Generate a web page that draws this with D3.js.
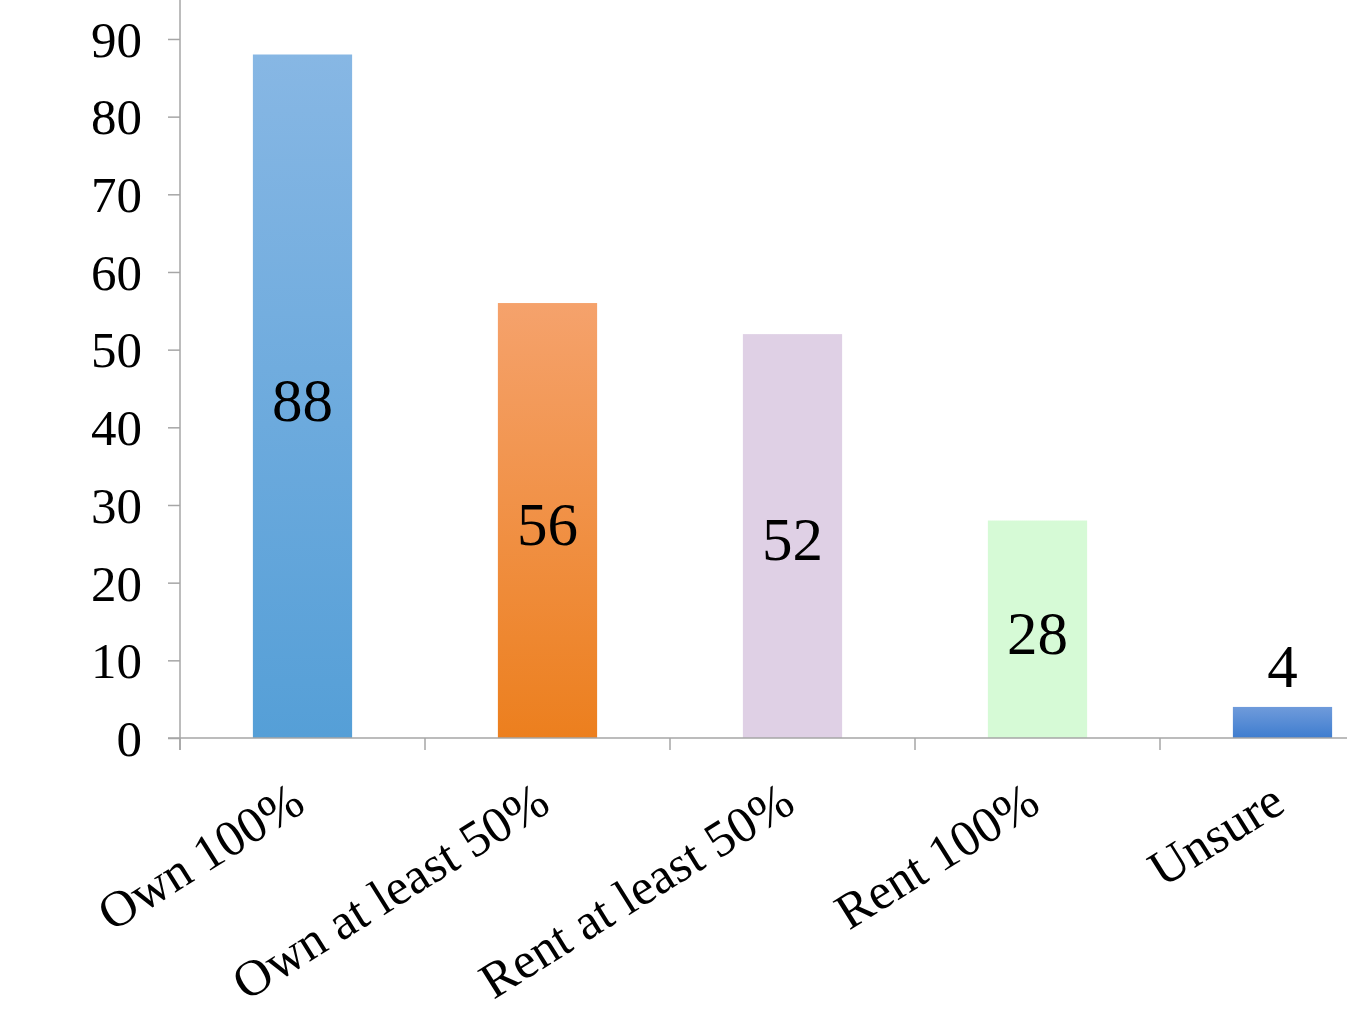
<!DOCTYPE html>
<html>
<head>
<meta charset="utf-8">
<script src="https://cdn.jsdelivr.net/npm/d3@7"></script>
<style>
  html, body { margin: 0; padding: 0; background: #fff; }
  svg { display: block; }
</style>
</head>
<body>
<svg id="chart" width="1347" height="1011"></svg>
<script>
// Share of respondents by housing arrangement
const categories = ["Own 100%", "Own at least 50%", "Rent at least 50%", "Rent 100%", "Unsure"];
const values = [88, 56, 52, 28, 4];
const yTicks = [0, 10, 20, 30, 40, 50, 60, 70, 80, 90];
// top / bottom colour of each bar's vertical gradient
const barTop = ["#87b7e4", "#f5a26c", "#dfd0e5", "#d6fad6", "#6f9bdb"];
const barBottom = ["#559fd7", "#ec7f1e", "#dfd0e5", "#d6fad6", "#3f7dcf"];

const svg = d3.select("#chart");
const axisX = 180;
const baseY = 738;
const step = 245;
const serif = "'Liberation Serif', 'Times New Roman', serif";

const y = d3.scaleLinear().domain([0, 100]).range([baseY, baseY - 776.7]);
const x = d3.scaleBand().domain(categories)
  .range([axisX, axisX + step * categories.length]).padding(0);
const barW = x.bandwidth() * 0.405;

const defs = svg.append("defs");
categories.forEach((c, i) => {
  const g = defs.append("linearGradient").attr("id", "grad" + i)
    .attr("x1", 0).attr("y1", 0).attr("x2", 0).attr("y2", 1);
  g.append("stop").attr("offset", "0%").attr("stop-color", barTop[i]);
  g.append("stop").attr("offset", "100%").attr("stop-color", barBottom[i]);
});

// bars
svg.append("g").selectAll("rect").data(values).join("rect")
  .attr("x", (d, i) => x(categories[i]) + x.bandwidth() / 2 - barW / 2)
  .attr("y", d => y(d))
  .attr("width", barW)
  .attr("height", d => y(0) - y(d))
  .attr("fill", (d, i) => `url(#grad${i})`);

// y axis
const yAxis = svg.append("g").attr("transform", `translate(${axisX},0)`)
  .call(d3.axisLeft(y).tickValues(yTicks).tickSize(12).tickPadding(26));
yAxis.select(".domain").remove();
yAxis.append("line").attr("x1", 0).attr("x2", 0).attr("y1", 0).attr("y2", baseY + 12);
yAxis.selectAll("line").attr("stroke", "#a6a6a6").attr("stroke-width", 1.5);
yAxis.selectAll("text")
  .attr("font-family", serif)
  .attr("font-size", 51).attr("fill", "#000").attr("dy", "0.34em");

// x axis
const xAxis = svg.append("g").attr("transform", `translate(0,${baseY})`);
xAxis.append("line").attr("x1", axisX - 12).attr("x2", 1347).attr("y1", 0).attr("y2", 0);
xAxis.selectAll("line.tk").data(d3.range(categories.length + 1)).join("line")
  .attr("class", "tk")
  .attr("x1", i => axisX + i * step).attr("x2", i => axisX + i * step)
  .attr("y1", 0).attr("y2", 12);
xAxis.selectAll("line").attr("stroke", "#a6a6a6").attr("stroke-width", 1.5);

// category labels, slanted
svg.append("g").selectAll("text").data(categories).join("text")
  .attr("transform", c => `translate(${x(c) + x.bandwidth() / 2 + 5},810) rotate(-32)`)
  .attr("text-anchor", "end")
  .attr("font-family", serif)
  .attr("font-size", 51).attr("fill", "#000")
  .text(c => c);

// value labels
svg.append("g").selectAll("text").data(values).join("text")
  .attr("x", (d, i) => x(categories[i]) + x.bandwidth() / 2)
  .attr("y", d => d < 10 ? y(d) - 20 : (y(d) + y(0)) / 2)
  .attr("dy", d => d < 10 ? "0" : "0.4em")
  .attr("text-anchor", "middle")
  .attr("font-family", serif)
  .attr("font-size", 61).attr("fill", "#000")
  .text(d => d);
</script>
</body>
</html>
